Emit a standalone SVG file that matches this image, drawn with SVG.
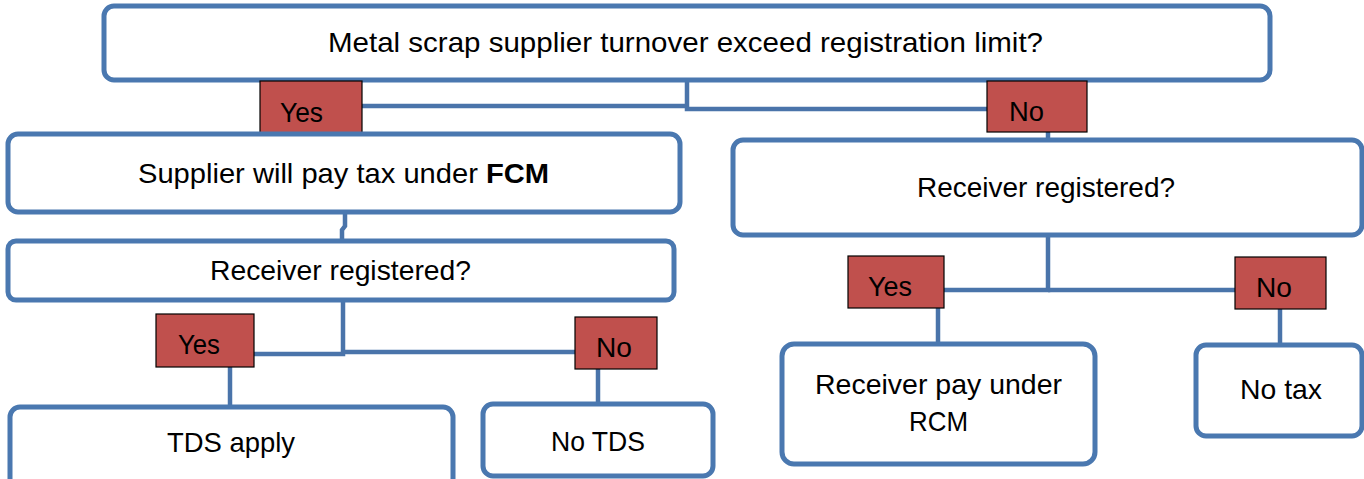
<svg xmlns="http://www.w3.org/2000/svg" width="1364" height="479" viewBox="0 0 1364 479">
<style>
.box{fill:#ffffff;stroke:#4a78b0;stroke-width:5}
.lbl{fill:#c0504d;stroke:#000000;stroke-width:1.2}
.con{fill:none;stroke:#4a74aa;stroke-width:4.5}
text{font-family:"Liberation Sans",Arial,sans-serif;font-size:28px;fill:#000000}
.m{text-anchor:middle}
</style>
<rect width="1364" height="479" fill="#ffffff"/>
<g id="connectors">
<path class="con" d="M362,106 H687 V80"/>
<path class="con" d="M687,108 V109 H987"/>
<path class="con" d="M1048,132 V139"/>
<path class="con" d="M345,213 V226 L342,230 V240"/>
<path class="con" d="M254,354 H343 V301"/>
<path class="con" d="M343,352 H575"/>
<path class="con" d="M230,367 V407"/>
<path class="con" d="M598,369 V403"/>
<path class="con" d="M944,290 H1048 V235"/>
<path class="con" d="M1048,290 H1235"/>
<path class="con" d="M938,308 V343"/>
<path class="con" d="M1280,309 V344"/>
</g>
<g id="n-top">
<rect class="box" x="104" y="6" width="1166" height="74" rx="10"/>
<text x="685.5" y="52" class="m" textLength="715" lengthAdjust="spacingAndGlyphs">Metal scrap supplier turnover exceed registration limit?</text>
</g>
<g id="n-yes1">
<rect class="lbl" x="260" y="81" width="102" height="52"/>
<text x="301.5" y="122" class="m" textLength="43" lengthAdjust="spacingAndGlyphs">Yes</text>
</g>
<g id="n-no1">
<rect class="lbl" x="987" y="81" width="100" height="51"/>
<text x="1026.5" y="121" class="m" textLength="35" lengthAdjust="spacingAndGlyphs">No</text>
</g>
<g id="n-supplier">
<rect class="box" x="8" y="134" width="672" height="78" rx="10"/>
<text x="343.5" y="183" class="m" textLength="411" lengthAdjust="spacingAndGlyphs">Supplier will pay tax under <tspan font-weight="bold">FCM</tspan></text>
</g>
<g id="n-recv-right">
<rect class="box" x="733" y="140" width="629" height="95" rx="10"/>
<text x="1046" y="197" class="m" textLength="258" lengthAdjust="spacingAndGlyphs">Receiver registered?</text>
</g>
<g id="n-recv-left">
<rect class="box" x="8" y="241" width="666" height="59" rx="8"/>
<text x="340.5" y="280" class="m" textLength="261" lengthAdjust="spacingAndGlyphs">Receiver registered?</text>
</g>
<g id="n-yes2">
<rect class="lbl" x="156" y="314" width="98" height="53"/>
<text x="199" y="354" class="m" textLength="42" lengthAdjust="spacingAndGlyphs">Yes</text>
</g>
<g id="n-no2">
<rect class="lbl" x="575" y="317" width="82" height="52"/>
<text x="614" y="357" class="m" textLength="36" lengthAdjust="spacingAndGlyphs">No</text>
</g>
<g id="n-tds">
<rect class="box" x="10" y="407" width="443" height="90" rx="10"/>
<text x="231" y="452" class="m" textLength="128" lengthAdjust="spacingAndGlyphs">TDS apply</text>
</g>
<g id="n-notds">
<rect class="box" x="483" y="404" width="230" height="72" rx="10"/>
<text x="598" y="451" class="m" textLength="94" lengthAdjust="spacingAndGlyphs">No TDS</text>
</g>
<g id="n-yes3">
<rect class="lbl" x="848" y="256" width="96" height="52"/>
<text x="890" y="296" class="m" textLength="44" lengthAdjust="spacingAndGlyphs">Yes</text>
</g>
<g id="n-no3">
<rect class="lbl" x="1235" y="257" width="91" height="52"/>
<text x="1274" y="297" class="m" textLength="36" lengthAdjust="spacingAndGlyphs">No</text>
</g>
<g id="n-rcm">
<rect class="box" x="782" y="344" width="313" height="120" rx="12"/>
<text x="938.5" y="394" class="m" textLength="247" lengthAdjust="spacingAndGlyphs">Receiver pay under</text>
<text x="938.5" y="431" class="m" textLength="59" lengthAdjust="spacingAndGlyphs">RCM</text>
</g>
<g id="n-notax">
<rect class="box" x="1196" y="345" width="166" height="91" rx="10"/>
<text x="1281" y="399" class="m" textLength="82" lengthAdjust="spacingAndGlyphs">No tax</text>
</g>
</svg>
